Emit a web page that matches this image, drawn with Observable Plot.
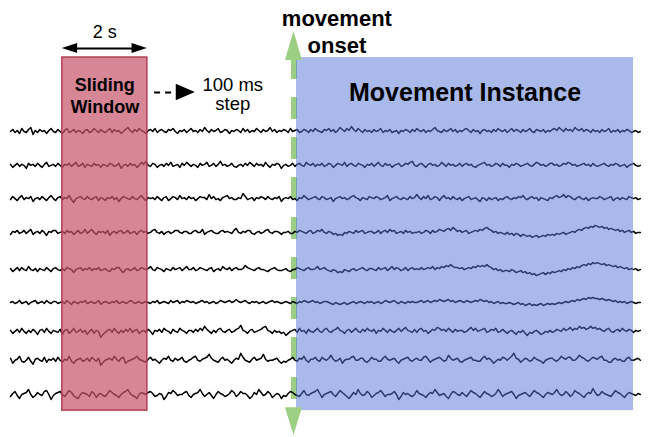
<!DOCTYPE html>
<html><head><meta charset="utf-8">
<script src="https://cdn.jsdelivr.net/npm/d3@7"></script>
<script src="https://cdn.jsdelivr.net/npm/@observablehq/plot@0.6"></script>
<style>html,body{margin:0;padding:0;background:#fff}svg{display:block}</style>
</head><body><div id="chart"></div>
<script>
// EEG-like channel traces (amplitude in µV-like units, + = up)
const ch0 = [0,2,-1,1,-2,3,0,-1,2,4,-3,1,-1,2,0,1,-2,1,3,0, -1,2,0,-2,1,3,-1,0,2,-1,1,0,-2,1,2,-1,0,3,1,-1, 2,0,-1,1,3,-1,2,0,1,-2,0,2,4,1,-1,2,0,3,1,0, -2,1,2,0,3,-1,1,2,0,-1,2,1,3,0,-2,1,0,2,-1,1, 3,0,1,-1,2,0,4,1,-1,2,0,1,3,-1,0,2,1,-2,1,0, 2,1,-1,3,0,2,-1,1,0,3,1,-1,2,0,1,4,0,2,-1,1, 0,2,1,-1,3,0,1,2,-1,0,2,1,-1,2,0,3,1,0,-1,2, 1,3,0,2,-1,1,4,2,0,3,1,5,2,0,3,1,-1,2,0,1, -1,2,0,1,3,-1,1,0,2,-1,0,1,-2,1,0,2,1,-1,2,0, 3,1,0,2,-1,1,0,2,4,1,0,-1,2,0,1,3,0,2,-1,1, 0,2,3,1,-1,2,0,1,-2,1,2,0,1,-1,2,0,3,1,0,2, -1,1,3,0,2,1,-1,2,0,1,3,0,-1,2,1,0,2,-1,1,0, 2,3,1,4,2,0,3,1,2,0,4,2,1,3,0,2,1,-1,2,0, 1,-1,2,0,1,3,-1,1,0,2,-1,1,0,2,1,-1,0,1,-1,0];
const ch1 = [1,-2,0,2,-1,1,0,-3,2,0,1,-1,2,0,-2,1,3,-1,0,1, -1,2,0,-2,1,0,2,-1,1,3,-1,0,2,-2,1,0,-1,2,0,1, -2,1,0,-1,2,1,-1,0,2,-3,0,1,-1,2,0,1,-2,0,3,1, 4,0,-1,2,1,-2,0,1,-1,2,0,3,-1,0,1,-2,2,0,3,1, -1,1,0,-2,2,0,1,3,-1,0,2,-1,1,4,0,1,-1,0,2,-1, -2,0,1,-1,2,0,3,1,-1,2,0,1,-1,3,0,-2,1,0,2,1, -3,0,1,-1,0,2,-1,1,2,0,-1,3,1,0,2,-1,1,0,2,-1, 0,2,1,-2,0,2,1,0,3,-1,1,2,0,-1,2,1,0,-2,1,0, 2,-1,1,3,0,-1,2,0,1,-2,0,1,2,-1,0,2,1,3,4,0, -1,1,2,0,-2,1,2,0,1,-1,0,3,1,-1,2,0,1,-1,0,2, -1,1,2,0,1,-1,-2,0,1,2,3,0,1,-1,0,2,1,-1,2,0, 0,-2,1,0,2,1,-1,0,1,2,0,-1,1,3,2,0,1,-1,0,2, 2,0,1,-1,0,2,1,3,2,0,1,-1,0,1,2,0,1,-1,2,0, -1,0,1,2,0,-1,1,0,2,1,-1,0,1,-2,0,1,2,0,-1,0];
const ch2 = [-1,2,0,-2,1,3,-1,1,0,2,-3,0,1,-1,2,0,-2,1,3,0, -2,1,2,-1,1,0,3,-1,-4,0,1,2,0,-1,2,0,-1,1,2,-2, 1,0,-2,1,0,2,-1,1,-3,0,2,1,0,-1,2,0,-1,1,3,0, -2,1,0,1,-1,2,0,-2,1,2,-2,0,2,1,-1,3,0,1,-1,2, 0,1,-2,0,2,1,1,-1,4,0,2,-1,0,-2,1,2,3,0,1,-1, -1,1,0,5,2,-1,0,1,-2,1,0,2,1,-1,2,0,-1,1,0,2, -3,0,1,0,2,-1,0,-2,1,0,3,1,-1,0,1,2,0,-1,2,1, -1,0,1,-3,0,1,2,0,1,-1,0,2,3,1,0,-2,1,0,-1,2, 1,0,2,1,-1,0,1,3,-2,0,1,2,0,-1,1,0,-1,2,0,1, 4,1,-1,2,0,3,-1,0,2,1,-2,1,3,0,1,-1,2,0,-1,1, -2,0,1,2,-1,0,1,-1,-3,1,0,-2,1,-1,0,1,-2,0,-1,1, 2,0,-1,1,0,2,1,3,0,-1,1,2,0,1,-2,1,0,-1,-2,1, 0,2,3,1,2,4,1,3,2,0,-1,1,2,0,-1,1,-2,0,1,0, 0,2,1,-1,0,1,2,-2,0,1,-1,1,0,-1,2,1,0,1,-1,0];
const ch3 = [-2,1,0,2,-1,0,2,-1,1,3,-2,0,1,-1,2,0,-3,1,0,2, 2,-1,0,1,-1,2,0,1,-2,0,2,-1,0,3,-1,1,3,0,-2,1, 0,1,-1,2,-3,0,1,-1,1,2,-1,0,2,-1,0,1,-2,1,2,0, 1,-1,0,2,3,0,-1,1,-2,0,1,-1,0,2,2,0,-1,1,1,-1, -1,1,2,0,0,3,-2,0,1,2,0,-1,-1,1,2,0,1,0,-1,2, 4,0,-1,1,0,2,2,-1,-2,0,1,-1,0,2,3,0,-1,1,1,0, -2,0,0,1,-1,-1,1,0,2,1,0,-1,1,2,-1,0,2,1,3,0, -1,1,0,-2,-1,-3,-2,-3,0,-1,1,0,-1,2,0,1,2,-1,0,1, 1,-1,0,2,-1,1,2,0,3,1,2,-1,0,1,-1,2,0,1,-1,0, 0,1,-1,0,2,1,-1,2,0,1,3,2,1,3,4,2,5,3,1,2, 0,1,2,-1,0,1,2,1,3,2,4,5,3,2,0,1,-1,0,-1,-2, 0,-2,-1,-3,-1,-2,-4,-2,-3,-4,-3,-5,-4,-3,-5,-4,-3,-4,-2,-3, -2,-3,-1,-2,-1,0,-2,-1,0,1,0,2,3,2,4,5,4,6,5,7, 6,5,6,4,5,3,4,3,2,3,1,2,0,1,2,0,1,-1,0,0];
const ch4 = [1,-2,0,2,-1,2,0,-1,3,0,-1,1,-2,1,0,-1,2,0,-2,1, 2,0,-1,1,-1,2,1,0,-3,0,1,2,-1,1,0,2,-1,1,0,2, -1,0,1,-1,-2,1,0,2,2,-1,-3,0,1,-1,0,2,-1,0,2,1, 0,1,3,0,-1,2,1,0,-2,1,0,-1,2,0,1,2,-1,1,3,0, 0,2,-1,0,2,1,0,-1,1,2,-2,0,1,-1,3,1,0,2,-1,1, 2,0,0,1,4,2,1,0,-1,1,2,0,0,-1,-2,0,1,2,0,-1, -1,0,1,-1,-2,0,0,2,1,0,-1,1,2,0,0,1,3,0,1,2, 0,-1,-2,0,-1,-3,-2,-3,0,-1,-2,0,1,-1,0,1,2,0,-1,1, 1,0,-1,2,0,1,2,-1,1,3,0,2,1,-1,0,2,-1,1,2,0, 1,0,2,0,1,2,1,3,0,2,1,3,2,4,3,5,3,2,2,1, 2,0,1,2,1,3,2,4,3,4,3,5,3,2,0,1,-1,0,-2,-1, -1,-2,0,-1,-3,-2,-1,-3,-2,-4,-3,-5,-4,-6,-5,-4,-3,-5,-3,-4, -2,-3,-2,-1,-2,0,-1,1,0,2,1,3,2,4,5,4,6,5,7,6, 7,6,5,6,4,5,4,3,4,2,3,2,1,2,0,1,0,1,-1,0];
const ch5 = [0,1,-1,0,2,-1,0,1,-2,0,1,2,-1,0,1,-1,2,0,-1,1, 1,-1,0,1,-1,2,0,-2,1,0,-1,1,0,2,-1,0,1,-1,0,2, -2,0,1,0,-1,1,0,2,-1,0,1,-1,0,2,1,-1,0,1,-1,0, 1,0,-1,1,0,2,-1,0,1,0,-1,2,0,1,2,-1,1,0,2,1, 0,1,-1,0,1,2,0,1,-1,0,1,-1,0,2,1,0,1,2,0,1, 3,1,0,1,2,0,-1,1,0,1,-1,0,1,-1,0,1,2,0,1,0, -1,0,1,0,-1,1,0,-1,1,0,2,1,0,1,2,0,1,-1,0,1, 1,0,-1,-2,0,-1,-2,-1,0,-2,-1,0,1,-1,0,1,0,-1,1,0, 1,-1,0,1,-1,0,2,1,0,1,2,0,-1,1,0,-1,1,0,1,0, 0,1,2,0,1,2,0,1,2,1,3,2,1,2,3,1,2,0,1,2, 1,0,2,1,0,1,2,1,3,2,1,2,0,1,-1,0,1,-1,0,-1, -1,0,-1,-2,-1,0,-2,-1,-3,-2,-1,-3,-2,-3,-2,-1,-3,-2,-1,-2, -1,-2,-1,0,-1,0,1,0,1,2,1,3,2,3,4,3,5,4,5,4, 4,3,4,3,2,3,2,1,2,0,1,0,1,-1,0,1,0,-1,0,0];
const ch6 = [1,-2,0,2,-1,3,0,-2,1,-1,2,0,-3,1,2,-1,3,0,-2,1, 0,-1,2,-3,1,2,-2,0,3,-1,0,2,-1,1,-3,0,2,-2,1,0, -6,-3,-1,1,2,-1,3,0,-2,1,-1,2,0,3,-1,1,2,-2,0,1, -1,2,0,-3,1,0,2,-1,3,1,0,-2,2,0,-1,3,1,0,-2,1, 1,-1,2,0,3,1,5,2,0,-2,1,-1,2,3,0,-1,1,2,-1,0, 2,3,6,1,0,-2,1,2,-1,0,1,2,4,5,1,0,-2,1,-1,0, -2,-1,-4,-2,0,1,2,-1,3,0,1,-2,2,0,-1,1,3,0,-1,2, 3,0,-1,1,2,4,1,0,-2,1,2,-1,1,3,0,-1,2,0,3,1, 0,2,-2,1,0,3,1,-1,2,0,-1,1,3,0,2,4,1,0,-1,2, -1,2,3,0,1,-2,0,2,1,4,3,1,2,0,3,1,-1,2,0,1, 1,-1,0,2,4,1,3,0,1,2,3,-1,0,2,1,3,-1,0,2,0, -2,0,1,-1,-3,0,-1,1,-2,-4,-1,-2,0,1,-1,-3,-2,0,-1,1, -1,0,2,1,0,3,1,2,4,1,3,2,5,3,4,2,3,5,3,4, 2,3,1,0,2,3,0,-1,1,2,0,3,1,0,2,1,-1,1,0,1];
const ch7 = [2,-3,0,1,4,-1,-2,0,3,-1,-4,1,2,0,-1,3,-2,1,0,2, -1,3,0,-2,1,0,4,-1,-3,0,1,2,-1,0,2,-1,3,1,-1,2, -5,-2,0,1,2,0,4,1,-1,2,3,-3,-1,0,1,2,4,1,0,-1, -2,1,3,0,1,-1,-3,0,2,1,4,0,-1,2,0,1,3,-1,-2,0, 1,3,4,0,-1,1,2,3,6,2,0,-1,-2,1,3,0,1,-1,-3,0, 2,1,7,3,0,-1,-2,1,3,0,1,2,6,1,-1,0,0,1,2,-1, -3,-1,-2,0,1,3,0,-1,2,1,4,0,-2,1,1,3,0,-1,3,1, 0,2,5,1,-1,0,2,-3,0,1,1,3,4,0,0,2,2,-1,-2,0, 3,1,1,-1,-1,2,4,1,0,1,2,-1,-3,0,1,2,3,0,-1,1, 2,0,0,3,4,1,-2,0,1,2,3,1,-1,0,5,2,0,1,2,-1, -2,0,1,2,3,0,0,-1,-1,2,4,1,2,0,-3,-1,1,0,3,2, 0,2,4,7,2,1,-2,0,2,1,-1,0,3,1,0,-1,-3,0,1,2, 2,0,-1,1,4,2,1,3,3,0,0,2,5,3,2,0,-1,1,3,2, 1,3,4,0,0,-2,-2,1,2,0,1,-1,-1,2,3,0,0,1,2,0];
const ch8 = [-2,1,3,-1,-4,0,1,2,5,0,-3,-1,2,0,-1,3,4,0,-5,-1, 1,2,3,0,-2,1,4,2,-1,-3,-4,0,2,1,0,-2,3,1,-3,0, 1,-1,-2,1,4,2,0,-1,-3,0,2,3,5,1,-1,-2,-4,0,2,1, 0,2,3,1,-2,-1,1,0,-5,-2,2,1,4,2,-1,0,0,2,3,-1, -3,0,1,2,5,1,-2,0,2,-1,-4,0,3,1,0,-2,-1,1,4,2, -2,0,3,1,1,-1,-4,-2,2,0,5,2,-1,0,3,1,-3,-1,1,0, -4,-1,-2,1,3,2,0,-1,-2,1,4,0,-1,1,2,3,5,1,-3,0, 1,2,3,0,-2,1,4,2,0,-2,-4,-1,2,0,5,1,-1,0,3,1, -3,-1,1,2,4,1,-2,0,0,1,3,0,-5,-2,2,0,1,-1,-2,0, 4,1,0,-1,-3,0,2,1,5,2,-1,0,1,-2,-4,0,3,2,0,-1, 2,0,-2,1,4,2,1,-1,-3,0,3,1,0,-2,-1,1,5,2,-2,0, 1,2,3,0,-4,-1,0,1,2,0,-2,1,4,2,1,-1,-3,0,2,1, 0,2,5,1,-1,0,3,1,-2,0,4,2,1,-1,-3,0,2,1,6,2, -1,0,3,1,0,-1,-2,1,4,2,1,-1,-3,0,2,1,0,-1,1,0];
const channels = [ch0, ch1, ch2, ch3, ch4, ch5, ch6, ch7, ch8];
const channelPos = [0, 1.03, 2.04, 3.07, 4.2, 5.2, 6.08, 6.96, 8];   // montage rows
const recordingLength = 14.82;   // seconds shown
const windowStart = 1.22, windowLength = 2;   // "2 s" sliding window
const onset = 6.67;                            // movement onset (s)
const instanceStart = 6.73, instanceEnd = 14.66;
const windowLabel = "2 s";
const slidingLabel = "Sliding\nWindow";
const stepLabel = "100 ms\nstep";
const onsetLabel = "movement\nonset";
const instanceLabel = "Movement Instance";

// layout (in plot units: x = seconds, y = channel rows, down is +)
const boxTop = -2.25, boxBottom = 8.49;
const uvPerRow = 32.875;
const green = "#9ccf84";

const samples = channels.flatMap((vals, c) =>
  vals.map((v, i) => ({c, t: i * recordingLength / (vals.length - 1), y: channelPos[c] - v / uvPerRow})));

const upHead = [
  {x: onset - 0.2, y1: -2.16, y2: -2.16},
  {x: onset, y1: -2.16, y2: -3.04},
  {x: onset + 0.2, y1: -2.16, y2: -2.16}];
const downHead = [
  {x: onset - 0.2, y1: 8.40, y2: 8.40},
  {x: onset, y1: 8.40, y2: 9.25},
  {x: onset + 0.2, y1: 8.40, y2: 8.40}];
const aY = -2.525, aH = 0.155, aL = 0.36;
const leftHead = [{x: windowStart, y1: aY, y2: aY}, {x: windowStart + aL, y1: aY - aH, y2: aY + aH}];
const rightHead = [{x: windowStart + windowLength - aL, y1: aY - aH, y2: aY + aH}, {x: windowStart + windowLength, y1: aY, y2: aY}];
const sY = -1.186;
const stepHead = [{x: 3.90, y1: sY - 0.25, y2: sY + 0.25}, {x: 4.35, y1: sY, y2: sY}];

const font = "Liberation Sans, Arial, Helvetica, sans-serif";
const chart = Plot.plot({
  width: 648, height: 437, margin: 0,
  style: {fontFamily: font, background: "#fff"},
  x: {domain: [-0.235, 15.012], axis: null},
  y: {domain: [-131 / uvPerRow, 306 / uvPerRow], range: [0, 437], axis: null},
  marks: [
    Plot.ruleX([onset], {y1: boxTop, y2: 8.40, stroke: green, strokeWidth: 6, strokeDasharray: "22,18"}),
    Plot.line(samples, {x: "t", y: "y", z: "c", stroke: "#000", strokeWidth: 1.5}),
    Plot.rect([0], {x1: windowStart, x2: windowStart + windowLength, y1: boxTop, y2: boxBottom,
      fill: "#c55367", fillOpacity: 0.7, stroke: "#b13f50", strokeWidth: 1.5}),
    Plot.rect([0], {x1: instanceStart, x2: instanceEnd, y1: boxTop, y2: boxBottom, fill: "#5474d4", fillOpacity: 0.5}),
    Plot.areaY(upHead, {x: "x", y1: "y1", y2: "y2", fill: green}),
    Plot.areaY(downHead, {x: "x", y1: "y1", y2: "y2", fill: green}),
    // 2 s double arrow
    Plot.ruleY([aY], {x1: windowStart + 0.2, x2: windowStart + windowLength - 0.2, stroke: "#000", strokeWidth: 2}),
    Plot.areaY(leftHead, {x: "x", y1: "y1", y2: "y2", fill: "#000"}),
    Plot.areaY(rightHead, {x: "x", y1: "y1", y2: "y2", fill: "#000"}),
    // 100 ms step dashed arrow
    Plot.ruleY([sY], {x1: 3.39, x2: 3.95, stroke: "#000", strokeWidth: 2, strokeDasharray: "6,5"}),
    Plot.areaY(stepHead, {x: "x", y1: "y1", y2: "y2", fill: "#000"}),
    // labels
    Plot.text([windowLabel], {x: windowStart + windowLength / 2, y: -2.83, text: d => d, fontSize: 18, lineAnchor: "bottom", fill: "#000"}),
    Plot.text([slidingLabel], {x: windowStart + windowLength / 2, y: -0.55, text: d => d, fontSize: 18, fontWeight: "bold", lineHeight: 1.22, lineAnchor: "bottom", fill: "#000"}),
    Plot.text([stepLabel], {x: 5.23, y: -0.64, text: d => d, fontSize: 18.5, lineHeight: 1.05, lineAnchor: "bottom", fill: "#000"}),
    Plot.text([onsetLabel], {x: 7.68, y: -2.40, text: d => d, fontSize: 22, fontWeight: "bold", lineHeight: 1.23, lineAnchor: "bottom", fill: "#000"}),
    Plot.text([instanceLabel], {x: (instanceStart + instanceEnd) / 2, y: -0.94, text: d => d, fontSize: 25, fontWeight: "bold", lineAnchor: "bottom", fill: "#000"})
  ]
});
document.getElementById("chart").appendChild(chart);
</script>
</body></html>
